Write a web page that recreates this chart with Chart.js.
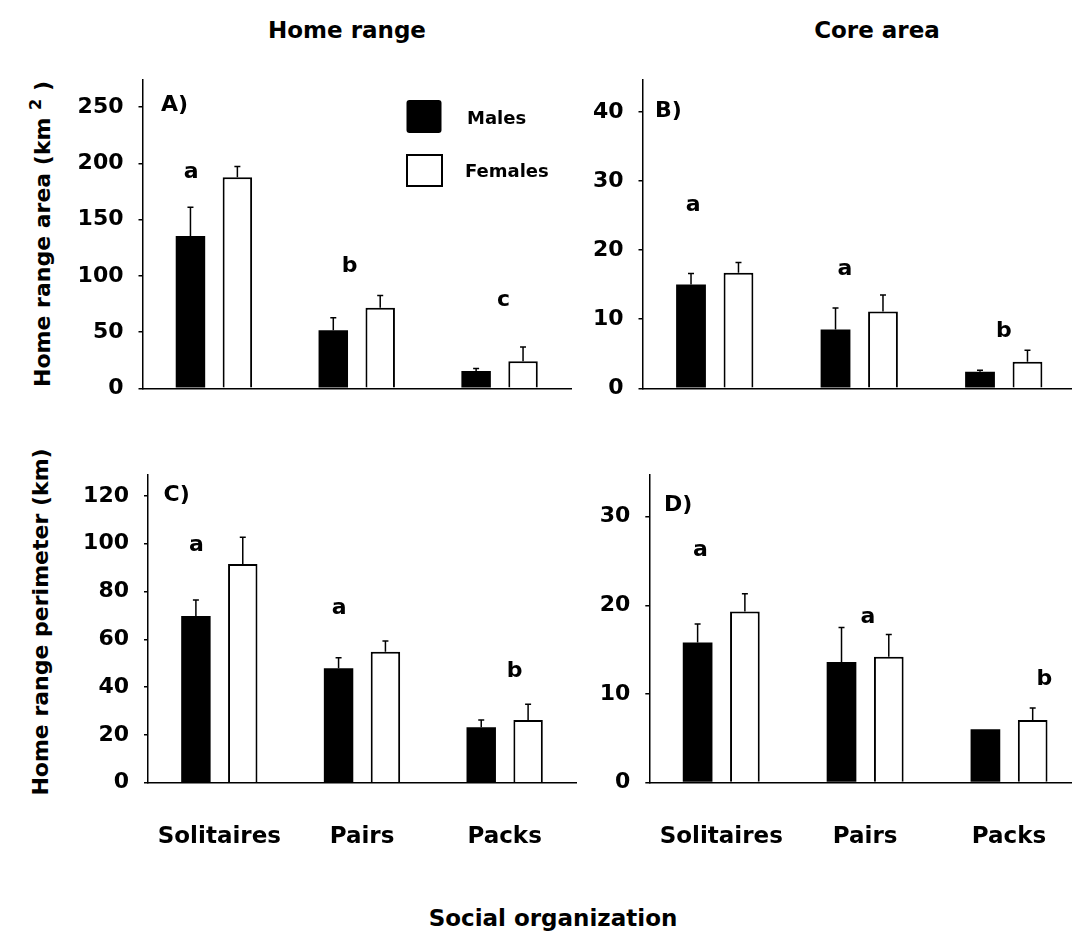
<!DOCTYPE html>
<html>
<head>
<meta charset="utf-8">
<title>Home range and core area by social organization</title>
<script src="https://cdn.jsdelivr.net/npm/chart.js@4.4.1/dist/chart.umd.min.js"></script>
<style>
  html, body { margin: 0; padding: 0; background: #fff; }
  #figure {
    position: relative;
    width: 1072px;
    height: 952px;
    overflow: hidden;
    font-family: "DejaVu Sans", sans-serif;
    font-weight: bold;
    color: #000;
  }
  #figure canvas { position: absolute; }
  .label {
    position: absolute;
    white-space: nowrap;
    line-height: 1;
    transform: translate(-50%, -50%);
  }
  .ytitle {
    position: absolute;
    white-space: nowrap;
    line-height: 1;
    font-size: 22px;
    transform: translate(-50%, -50%) rotate(-90deg);
  }
  .ytitle sup { font-size: 16px; vertical-align: 9px; }
</style>
</head>
<body>
<div id="figure">
  <div class="label" style="left:347px; top:30px; font-size:23px;">Home range</div>
  <div class="label" style="left:877px; top:30px; font-size:23px;">Core area</div>
  <div class="ytitle" style="left:41px; top:234px;">Home range area (km <sup>2</sup> )</div>
  <div class="ytitle" style="left:41px; top:622px;">Home range perimeter (km)</div>
  <div class="label" style="left:553px; top:918px; font-size:23px;">Social organization</div>
  <canvas id="panel-a"></canvas>
  <canvas id="panel-b"></canvas>
  <canvas id="panel-c"></canvas>
  <canvas id="panel-d"></canvas>
</div>

<script>
// Categories and series
const categories = ['Solitaires', 'Pairs', 'Packs'];
const seriesLabels = ['Males', 'Females'];

// A) Home range area (km2)
const areaMales = [135.4, 51.5, 15.3];
const areaMalesErr = [25.6, 11.2, 2.4];
const areaFemales = [187.5, 71.5, 24.1];
const areaFemalesErr = [9.7, 10.9, 12.7];
const areaTicks = [0, 50, 100, 150, 200, 250];
const areaLetters = ['a', 'b', 'c'];

// B) Core area (km2)
const coreMales = [15.0, 8.5, 2.4];
const coreMalesErr = [1.6, 3.1, 0.2];
const coreFemales = [16.7, 11.1, 3.85];
const coreFemalesErr = [1.5, 2.4, 1.65];
const coreTicks = [0, 10, 20, 30, 40];
const coreLetters = ['a', 'a', 'b'];

// C) Home range perimeter (km)
const perimMales = [69.7, 47.9, 23.2];
const perimMalesErr = [6.7, 4.4, 3.0];
const perimFemales = [91.5, 54.8, 26.2];
const perimFemalesErr = [11.2, 4.5, 6.6];
const perimTicks = [0, 20, 40, 60, 80, 100, 120];
const perimLetters = ['a', 'a', 'b'];

// D) Core area perimeter (km)
const corePerimMales = [15.8, 13.6, 6.0];
const corePerimMalesErr = [2.1, 3.9, 0];
const corePerimFemales = [19.3, 14.2, 7.05];
const corePerimFemalesErr = [2.0, 2.5, 1.35];
const corePerimTicks = [0, 10, 20, 30];
const corePerimLetters = ['a', 'a', 'b'];

Chart.defaults.font.family = '"DejaVu Sans", sans-serif';
Chart.defaults.font.weight = 'bold';
Chart.defaults.color = '#000';

/**
 * Panel layout: canvas box, plot area (page pixels), axis range,
 * where the panel tag and the significance letters go
 */
const panels = [
  {
    canvas: 'panel-a', tag: 'A)', showX: false, legend: true,
    males: areaMales, malesErr: areaMalesErr,
    females: areaFemales, femalesErr: areaFemalesErr,
    ticks: areaTicks, letters: areaLetters, yMax: 274,
    box: { left: 0, top: 0, width: 600, height: 430 },
    area: { left: 142.5, top: 80, right: 571, bottom: 388.3 },
    tagPos: [18.5, 25],
    letterPos: [[-0.16, 192], [-0.05, 108], [0.027, 77.8]]
  },
  {
    canvas: 'panel-b', tag: 'B)', showX: false, legend: false,
    males: coreMales, malesErr: coreMalesErr,
    females: coreFemales, femalesErr: coreFemalesErr,
    ticks: coreTicks, letters: coreLetters, yMax: 44.6,
    box: { left: 560, top: 0, width: 530, height: 430 },
    area: { left: 642.5, top: 80, right: 1076, bottom: 388.3 },
    tagPos: [12.5, 31.7],
    letterPos: [[-0.15, 26.5], [-0.10, 17.2], [0.0, 8.2]]
  },
  {
    canvas: 'panel-c', tag: 'C)', showX: true, legend: false,
    males: perimMales, malesErr: perimMalesErr,
    females: perimFemales, femalesErr: perimFemalesErr,
    ticks: perimTicks, letters: perimLetters, yMax: 128.7,
    box: { left: 0, top: 440, width: 600, height: 440 },
    area: { left: 148, top: 475, right: 576, bottom: 782.7 },
    tagPos: [15.6, 20],
    letterPos: [[-0.16, 99.5], [-0.16, 73], [0.07, 46.4]]
  },
  {
    canvas: 'panel-d', tag: 'D)', showX: true, legend: false,
    males: corePerimMales, malesErr: corePerimMalesErr,
    females: corePerimFemales, femalesErr: corePerimFemalesErr,
    ticks: corePerimTicks, letters: corePerimLetters, yMax: 34.7,
    box: { left: 560, top: 440, width: 530, height: 440 },
    area: { left: 649.3, top: 475, right: 1081, bottom: 782.5 },
    tagPos: [14.6, 30],
    letterPos: [[-0.145, 26.2], [0.02, 18.7], [0.245, 11.6]]
  }
];

/**
 * Error bars, letters, panel tag and legend drawn on top of the bars
 */
function makeMarks(p) {
  return {
    id: 'marks-' + p.canvas,
    afterDatasetsDraw(chart) {
      const ctx = chart.ctx;
      const xs = chart.scales.x;
      const ys = chart.scales.y;
      const area = chart.chartArea;

      // upward standard-error bars
      ctx.save();
      ctx.strokeStyle = '#000';
      ctx.lineWidth = 1.5;
      ctx.beginPath();
      [p.malesErr, p.femalesErr].forEach((errs, di) => {
        const values = chart.data.datasets[di].data;
        chart.getDatasetMeta(di).data.forEach((bar, i) => {
          if (!errs[i]) return;
          const yTop = ys.getPixelForValue(values[i] + errs[i]);
          ctx.moveTo(bar.x, bar.y);
          ctx.lineTo(bar.x, yTop);
          ctx.moveTo(bar.x - 3, yTop);
          ctx.lineTo(bar.x + 3, yTop);
        });
      });
      ctx.stroke();

      // significance letters
      const catWidth = (area.right - area.left) / categories.length;
      ctx.fillStyle = '#000';
      ctx.font = 'bold 22px "DejaVu Sans", sans-serif';
      ctx.textAlign = 'center';
      ctx.textBaseline = 'middle';
      p.letters.forEach((letter, i) => {
        const pos = p.letterPos[i];
        ctx.fillText(letter, xs.getPixelForValue(i) + pos[0] * catWidth, ys.getPixelForValue(pos[1]));
      });

      // panel tag
      ctx.textAlign = 'left';
      ctx.fillText(p.tag, area.left + p.tagPos[0], area.top + p.tagPos[1]);

      // legend (panel A only)
      if (p.legend) {
        ctx.fillStyle = '#000';
        ctx.beginPath();
        ctx.roundRect(406.5, 100, 35, 33, 3);
        ctx.fill();
        ctx.lineWidth = 2;
        ctx.strokeRect(407, 155, 35, 31);
        ctx.font = 'bold 18px "DejaVu Sans", sans-serif';
        ctx.fillText(seriesLabels[0], 467, 119);
        ctx.fillText(seriesLabels[1], 465, 172);
      }
      ctx.restore();
    }
  };
}

/**
 * Build one panel of the figure
 */
function createPanel(p) {
  const el = document.getElementById(p.canvas);
  el.width = p.box.width;
  el.height = p.box.height;
  el.style.left = p.box.left + 'px';
  el.style.top = p.box.top + 'px';

  const xAxisHeight = p.showX ? 80 : 0;

  return new Chart(el, {
    type: 'bar',
    data: {
      labels: categories,
      datasets: [
        {
          label: seriesLabels[0],
          data: p.males,
          backgroundColor: '#000',
          borderColor: '#000',
          borderWidth: 0,
          categoryPercentage: 0.657,
          barPercentage: 0.628
        },
        {
          label: seriesLabels[1],
          data: p.females,
          backgroundColor: '#fff',
          borderColor: '#000',
          borderWidth: 2,
          categoryPercentage: 0.657,
          barPercentage: 0.628
        }
      ]
    },
    options: {
      responsive: false,
      animation: false,
      devicePixelRatio: 1,
      layout: {
        padding: {
          left: 0,
          top: p.area.top - p.box.top,
          right: p.box.left + p.box.width - p.area.right,
          bottom: p.box.top + p.box.height - p.area.bottom - xAxisHeight
        }
      },
      plugins: {
        legend: { display: false },
        tooltip: { enabled: false }
      },
      scales: {
        x: {
          grid: { display: false, drawTicks: false },
          border: { display: true, color: '#000', width: 1.5 },
          ticks: {
            display: p.showX,
            padding: 41,
            autoSkip: false,
            maxRotation: 0,
            color: '#000',
            font: { size: 23, weight: 'bold' }
          },
          afterFit: s => { s.height = xAxisHeight; }
        },
        y: {
          min: 0,
          max: p.yMax,
          grid: {
            display: true,
            drawOnChartArea: false,
            drawTicks: true,
            tickLength: 4,
            color: '#000',
            lineWidth: 1.5
          },
          border: { display: true, color: '#000', width: 1.5 },
          ticks: {
            padding: 15,
            color: '#000',
            font: { size: 22, weight: 'bold' }
          },
          afterBuildTicks: s => { s.ticks = p.ticks.map(v => ({ value: v })); },
          afterFit: s => { s.width = p.area.left - p.box.left; }
        }
      }
    },
    plugins: [makeMarks(p)]
  });
}

panels.forEach(createPanel);
</script>
</body>
</html>
